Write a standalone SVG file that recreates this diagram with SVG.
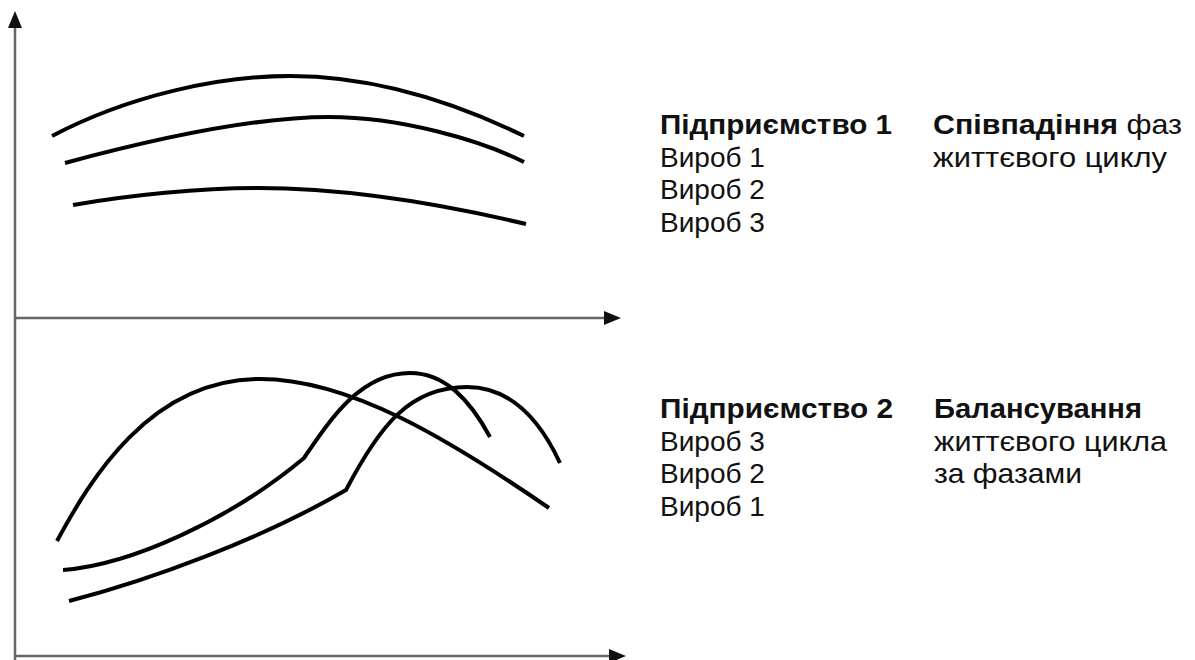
<svg xmlns="http://www.w3.org/2000/svg" width="1195" height="660" viewBox="0 0 1195 660">
  <defs>
    <marker id="arr" markerUnits="userSpaceOnUse" markerWidth="18" markerHeight="14" refX="0" refY="7" orient="auto">
      <path d="M0,0 L17,7 L0,14 z" fill="#111"/>
    </marker>
    <style>
      .axis { stroke: #666; stroke-width: 2.5; fill: none; }
      .curve { stroke: #000; stroke-width: 4; fill: none; stroke-linecap: butt; stroke-linejoin: round; }
      text { font-family: "Liberation Sans", Arial, sans-serif; font-size: 28px; fill: #111; }
      .b { font-weight: bold; }
    </style>
  </defs>
  <rect width="1195" height="660" fill="#fff"/>
  <g id="axes">
    <line class="axis" x1="15" y1="660" x2="15" y2="28" marker-end="url(#arr)"/>
    <line class="axis" x1="15" y1="318" x2="604" y2="318" marker-end="url(#arr)"/>
    <line class="axis" x1="15" y1="656" x2="609" y2="656" marker-end="url(#arr)"/>
  </g>
  <g id="curves-top">
    <path class="curve" d="M52,136 C130,95 220,76 290,76 C370,76 450,100 524,136"/>
    <path class="curve" d="M65,163 C150,140 250,117 329,117 C400,117 480,140 524,162"/>
    <path class="curve" d="M73,205 C130,195 200,188 258,188 C350,188 450,206 526,224"/>
  </g>
  <g id="curves-bottom">
    <path class="curve" d="M57,541 C90,480 150,379 260,379 C350,379 450,440 549,508"/>
    <path class="curve" d="M63,570 C130,565 230,520 304,458 C330,420 360,373 410,373 C445,373 470,400 490,437"/>
    <path class="curve" d="M69,601 C150,580 260,540 346,490 C380,425 410,387 467,387 C510,387 540,420 560,463"/>
  </g>
  <g id="labels-top">
    <text class="b" x="660" y="134" textLength="232" lengthAdjust="spacingAndGlyphs">Підприємство 1</text>
    <text x="660" y="166.5">Вироб 1</text>
    <text x="660" y="199">Вироб 2</text>
    <text x="660" y="231.5">Вироб 3</text>
    <text x="933" y="134" textLength="249" lengthAdjust="spacingAndGlyphs"><tspan class="b">Співпадіння</tspan> фаз</text>
    <text x="933" y="166.5" textLength="234" lengthAdjust="spacingAndGlyphs">життєвого циклу</text>
  </g>
  <g id="labels-bottom">
    <text class="b" x="660" y="418" textLength="233" lengthAdjust="spacingAndGlyphs">Підприємство 2</text>
    <text x="660" y="450.5">Вироб 3</text>
    <text x="660" y="483">Вироб 2</text>
    <text x="660" y="515.5">Вироб 1</text>
    <text class="b" x="934" y="418" textLength="208" lengthAdjust="spacingAndGlyphs">Балансування</text>
    <text x="934" y="450.5" textLength="233" lengthAdjust="spacingAndGlyphs">життєвого цикла</text>
    <text x="934" y="483" textLength="148" lengthAdjust="spacingAndGlyphs">за фазами</text>
  </g>
</svg>
